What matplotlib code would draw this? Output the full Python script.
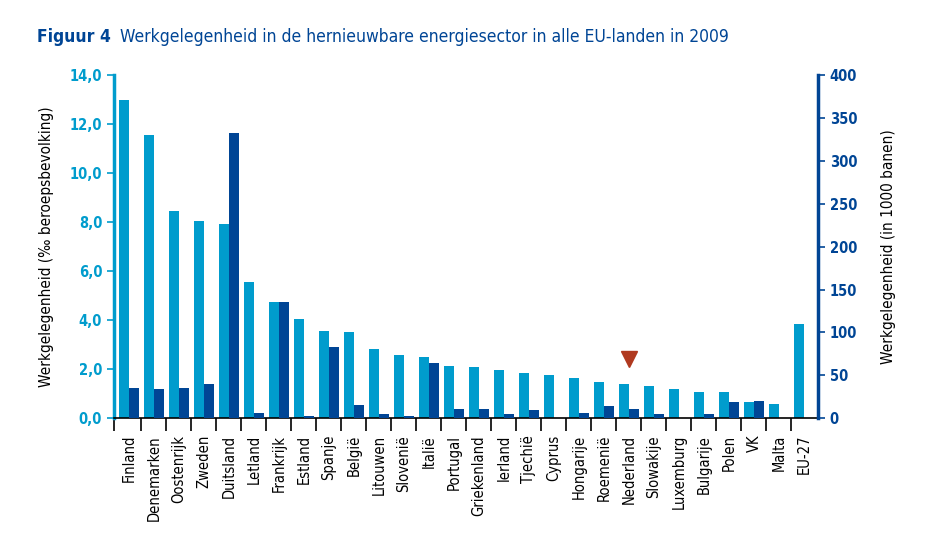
import numpy as np
import matplotlib
matplotlib.use("Agg")
import matplotlib.pyplot as plt
from matplotlib.ticker import FuncFormatter

# data
landen = ["Finland", "Denemarken", "Oostenrijk", "Zweden", "Duitsland", "Letland",
          "Frankrijk", "Estland", "Spanje", "België", "Litouwen", "Slovenië", "Italië",
          "Portugal", "Griekenland", "Ierland", "Tjechië", "Cyprus", "Hongarije",
          "Roemenië", "Nederland", "Slowakije", "Luxemburg", "Bulgarije", "Polen",
          "VK", "Malta", "EU-27"]
promille = [13.0, 11.55, 8.45, 8.05, 7.93, 5.55, 4.75, 4.05, 3.56, 3.52, 2.83, 2.58,
            2.5, 2.13, 2.09, 1.97, 1.85, 1.77, 1.65, 1.48, 1.40, 1.32, 1.2, 1.08,
            1.08, 0.67, 0.58, 3.85]
banen = [35, 34, 35, 40, 333, 6, 136, 2.5, 83, 15.5, 5, 2.5, 64, 11, 11, 5, 10, 0,
         6, 14, 11, 5, 0, 5, 19, 20, 0, 0]
marker_land = "Nederland"

licht = "#009ccd"
donker = "#004595"
rood = "#b0391f"

plt.rcParams['font.family'] = ['DejaVu Sans']
plt.rcParams['font.stretch'] = 'condensed'

fig = plt.figure(figsize=(9.37, 5.39), dpi=100)
ax = fig.add_axes([114 / 937, 1 - 418.3 / 539, (818 - 114) / 937, (418.3 - 75) / 539])
ax2 = ax.twinx()

x = np.arange(len(landen))
w = 0.41
ax.bar(x - w / 2, promille, width=w, color=licht, zorder=2)
ax2.bar(x + w / 2, banen, width=w, color=donker, zorder=2)

i = landen.index(marker_land)
ax.plot(x[i], promille[i] + 1.0, marker="v", ms=12, color=rood, ls="none", zorder=3)

ax.set_xlim(-0.6, len(landen) - 0.44)
ax.set_ylim(0, 14)
ax2.set_ylim(0, 400)
ax.set_yticks(np.arange(0, 14.1, 2))
ax2.set_yticks(np.arange(0, 401, 50))
ax.yaxis.set_major_formatter(FuncFormatter(lambda v, p: f"{v:.1f}".replace(".", ",")))

# boundaries get tick marks, centres get the names
ax.set_xticks(np.concatenate([[-0.6], np.arange(len(landen) - 1) + 0.5]))
ax.set_xticklabels([])
ax.set_xticks(x, landen, minor=True)
ax.tick_params(axis="x", which="major", length=9, width=1.2, color="black")
ax.tick_params(axis="x", which="minor", length=0, pad=12, labelrotation=90, labelsize=10.5)
for t in ax.get_xticklabels(minor=True):
    t.set_va("top")

ax.tick_params(axis="y", length=5, width=1.2, color=licht, labelcolor=licht, labelsize=10.5)
ax2.tick_params(axis="y", length=5, width=1.2, color=donker, labelcolor=donker, labelsize=10.5)
for t in ax.get_yticklabels():
    t.set_fontweight("bold")
for t in ax2.get_yticklabels():
    t.set_fontweight("bold")

for a in (ax, ax2):
    a.spines["top"].set_visible(False)
ax.spines["right"].set_visible(False)
ax2.spines["left"].set_visible(False)
ax2.spines["bottom"].set_visible(False)
ax.spines["left"].set_color(licht)
ax.spines["left"].set_linewidth(2.5)
ax2.spines["right"].set_color(donker)
ax2.spines["right"].set_linewidth(2.5)
ax.spines["bottom"].set_linewidth(1.2)

ax.set_ylabel("Werkgelegenheid (‰ beroepsbevolking)", fontsize=11, labelpad=11)
ax2.set_ylabel("Werkgelegenheid (in 1000 banen)", fontsize=11, labelpad=17)

fig.text(37 / 937, 1 - 37 / 539, "Figuur 4", fontsize=12.5, fontweight="bold",
         color=donker, va="center")
fig.text(120 / 937, 1 - 37 / 539,
         "Werkgelegenheid in de hernieuwbare energiesector in alle EU-landen in 2009",
         fontsize=12.5, color=donker, va="center")

fig.savefig("out.png", dpi=100)
